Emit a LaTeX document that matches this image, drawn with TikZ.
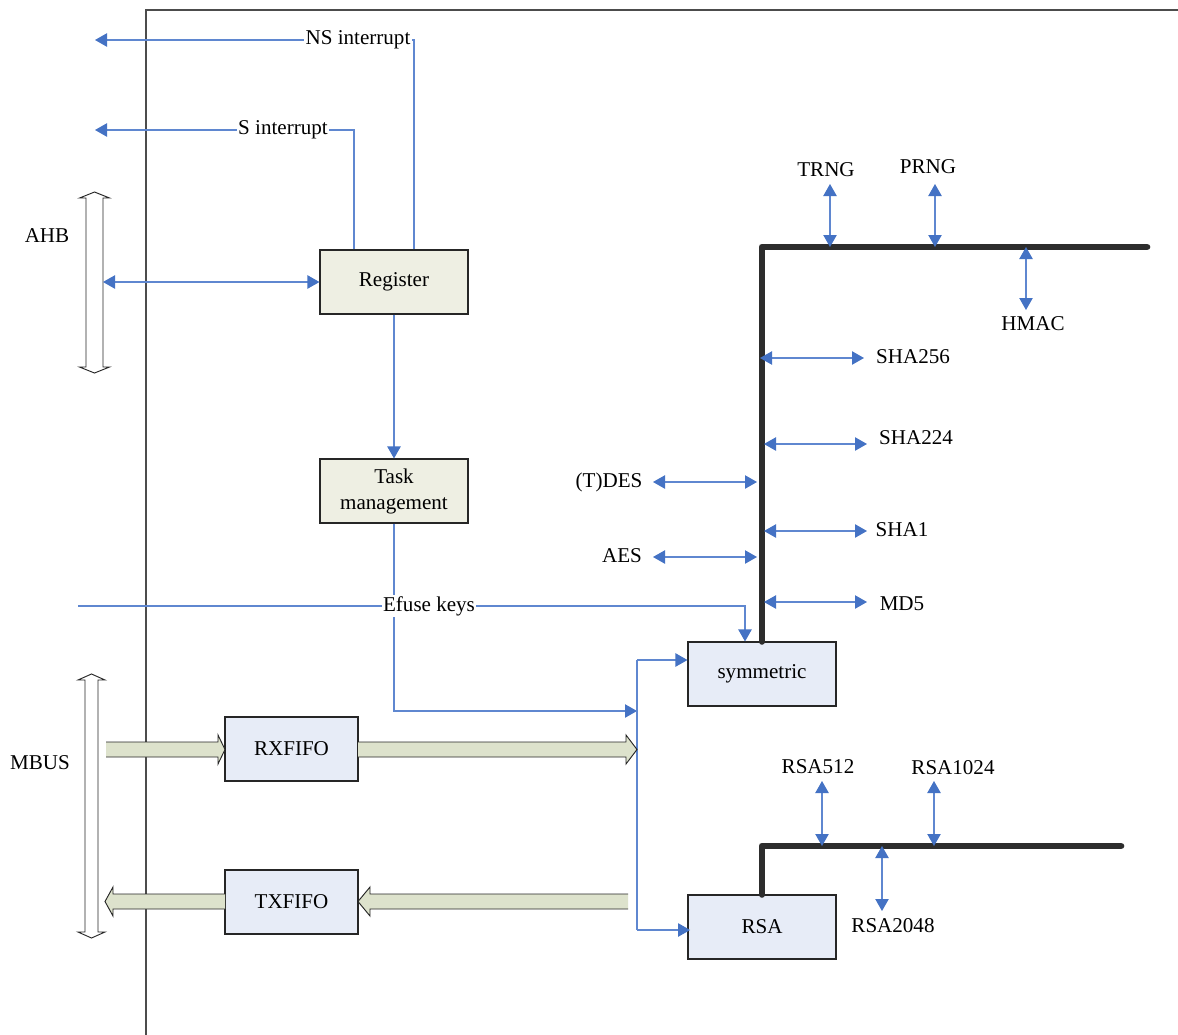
\documentclass[tikz,border=0pt]{standalone}
\usepackage{fontspec}
\setmainfont{Liberation Serif}
\usetikzlibrary{arrows.meta}
\definecolor{ablue}{RGB}{68,114,196}
\definecolor{lblue}{RGB}{95,135,208}
\definecolor{regfill}{RGB}{238,239,227}
\definecolor{symfill}{RGB}{231,236,247}
\definecolor{fatfill}{RGB}{221,226,204}
\definecolor{busgray}{RGB}{45,45,45}
\newcommand\fatarrow[4]{% tail x, tip x, y, head base x
  \fill[fatfill] (#1,#3-7.5) -- (#4,#3-7.5) -- (#4,#3-14.5) -- (#2,#3) -- (#4,#3+14.5) -- (#4,#3+7.5) -- (#1,#3+7.5) -- cycle;
  \draw[black!85, line width=0.7pt] (#1,#3-7.5) -- (#4,#3-7.5) -- (#4,#3-14.5) -- (#2,#3) -- (#4,#3+14.5) -- (#4,#3+7.5) -- (#1,#3+7.5);}
\newcommand\vdouble[6]{% xc, ytop, ybot, shaft half, head half, head length
  \draw[black!85, fill=white, line width=0.7pt] (#1,#2) -- (#1+#5,#2+#6) -- (#1+#4,#2+#6) -- (#1+#4,#3-#6) -- (#1+#5,#3-#6) -- (#1,#3) -- (#1-#5,#3-#6) -- (#1-#4,#3-#6) -- (#1-#4,#2+#6) -- (#1-#5,#2+#6) -- cycle;}
\begin{document}
\begin{tikzpicture}[x=0.75pt,y=-0.75pt,
  every node/.style={font=\fontsize{15.8}{19.5}\selectfont, inner sep=1pt},
  blk/.style={draw=black!85, line width=0.8pt, minimum width=111pt, minimum height=48pt, inner sep=0pt},
  regbox/.style={blk, fill=regfill},
  symbox/.style={blk, fill=symfill},
  conn/.style={draw=lblue, line width=0.9pt, >={Triangle[length=9pt,width=10pt,color=ablue]}},
  lbl/.style={fill=white, inner sep=1pt},
  bus/.style={draw=busgray, line width=5pt, line cap=round, line join=round},
  frame/.style={draw=black!70, line width=0.9pt}
]
\useasboundingbox (0,0) rectangle (1178,1035);
\fill[white] (0,0) rectangle (1178,1035);

% frame
\draw[frame] (146,1035) -- (146,10) -- (1178,10);

% boxes
\node[regbox] (reg) at (394,282) {Register};
\node[regbox, align=center] (task) at (394,491) {Task\\management};
\node[symbox] (sym) at (762,674) {symmetric};
\node[symbox] (rsa) at (762,927) {RSA};
\node[symbox, minimum width=99.75pt] (rx) at (291.5,749) {RXFIFO};
\node[symbox, minimum width=99.75pt] (tx) at (291.5,902) {TXFIFO};

% buses on the left
\vdouble{94.5}{192}{373}{8.5}{15}{6}
\vdouble{91.5}{674}{938}{6.5}{13.5}{6}
\node (ahb) at (47,236) {AHB};
\node (mbus) at (40,763) {MBUS};

% coordinates
\coordinate (ahbR) at (103,282);
\coordinate (nsEnd) at (95,40);
\coordinate (sEnd) at (95,130);
\coordinate (efL) at (78,606);
\coordinate (vtop) at (637,660);
\coordinate (vbot) at (637,930);
\coordinate (vmid) at (637,711);

% interrupts
\draw[conn,->] ([xshift=15pt]reg.north) |- (nsEnd);
\draw[conn,->] ([xshift=-30pt]reg.north) |- (sEnd);
\node[lbl] (ns) at (358,40) {NS interrupt};
\node[lbl] (si) at (283,130) {S interrupt};

% AHB <-> register
\draw[conn,<->] (ahbR) -- (reg.west);

% register -> task
\draw[conn,->] (reg.south) -- (task.north);

% task -> vertical line
\draw[conn,->] (task.south) |- (vmid);

% efuse keys
\draw[conn,->] (efL) -| ([xshift=-12.75pt]sym.north);
\node[lbl] (efuse) at (429,606) {Efuse keys};

% distribution line
\draw[conn] (vtop) -- (vbot);
\draw[conn,->] (vtop) -- (sym.west |- vtop);
\draw[conn,->] (vbot) -- ([xshift=2pt]rsa.west |- vbot);

% fat arrows
\fatarrow{106}{225}{749.5}{218}
\fatarrow{358}{637}{749.5}{626}
\fatarrow{628}{358}{901.5}{370}
\fatarrow{225}{105}{901.5}{113}

% symmetric bus
\draw[bus] (sym.north) -- (762,247) -- (1147,247);
\node (trng) at (826,170) {TRNG};
\node (prng) at (928,167) {PRNG};
\node (hmac) at (1033,324) {HMAC};
\node (sha256) at (913,357) {SHA256};
\node (sha224) at (916,438) {SHA224};
\node (tdes) at (609,482) {(T)DES};
\node (sha1) at (902,530) {SHA1};
\node (aes) at (622,556) {AES};
\node (md5) at (902,604) {MD5};

\coordinate (trngB) at (830,247);
\coordinate (prngB) at (935,247);
\coordinate (hmacB) at (1026,247);
\draw[conn,<->] (830,184) -- (trngB);
\draw[conn,<->] (935,184) -- (prngB);
\draw[conn,<->] (hmacB) -- (1026,310);
\draw[conn,<->] (760,358) -- (864,358);
\draw[conn,<->] (764,444) -- (867,444);
\draw[conn,<->] (653,482) -- (757,482);
\draw[conn,<->] (764,531) -- (867,531);
\draw[conn,<->] (653,557) -- (757,557);
\draw[conn,<->] (764,602) -- (867,602);

% RSA bus
\draw[bus] (rsa.north) -- (762,846) -- (1121,846);
\node (r512) at (818,767) {RSA512};
\node (r1024) at (953,768) {RSA1024};
\node (r2048) at (893,926) {RSA2048};
\draw[conn,<->] (822,781) -- (822,846);
\draw[conn,<->] (934,781) -- (934,846);
\draw[conn,<->] (882,846) -- (882,911);
\end{tikzpicture}
\end{document}
